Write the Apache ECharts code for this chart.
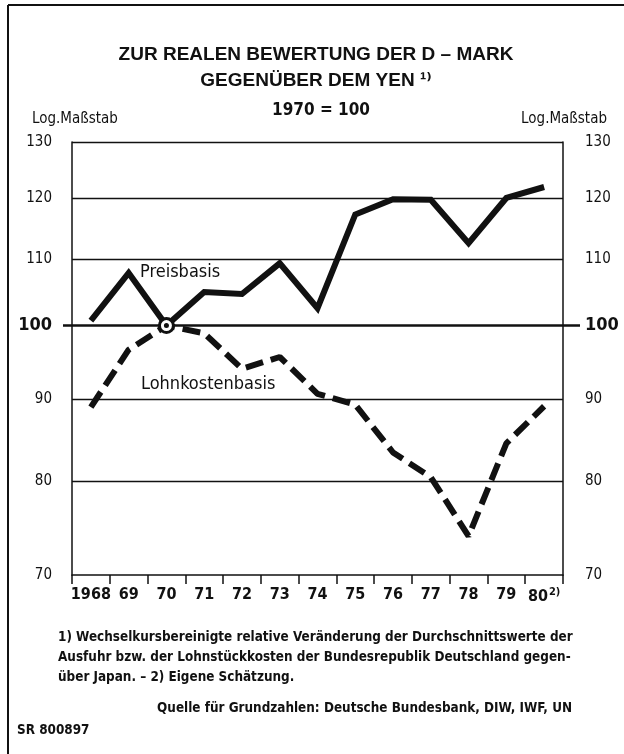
<!DOCTYPE html>
<html>
<head>
<meta charset="utf-8">
<title>Zur realen Bewertung der D-Mark gegenüber dem Yen</title>
<script src="https://cdn.jsdelivr.net/npm/echarts@6/dist/echarts.min.js"></script>
<style>
  html, body { margin: 0; padding: 0; background: #fff; }
  #chart { width: 624px; height: 754px; }
</style>
</head>
<body>
<div id="chart"></div>
<script>
  // Jahre
  var years = ['1968', '69', '70', '71', '72', '73', '74', '75', '76', '77', '78', '79', '80'];
  // Preisbasis, 1970 = 100
  var preisbasis = [100.7, 107.8, 100, 104.9, 104.6, 109.3, 102.5, 117.2, 119.8, 119.7, 112.5, 120.0, 121.9];
  // Lohnkostenbasis, 1970 = 100
  var lohnkosten = [89.0, 96.6, 100, 98.9, 94.0, 95.6, 90.7, 89.3, 83.4, 80.5, 74.0, 84.5, 89.1];
  // Teilung der log. Achse
  var yTicks = [70, 80, 90, 100, 110, 120, 130];

  var ink = '#111';
  var cond = "'Liberation Sans Narrow', 'DejaVu Sans Condensed', 'Liberation Sans', sans-serif";
  var sans = "'Liberation Sans', 'DejaVu Sans', sans-serif";

  function yAxis(pos) {
    return {
      type: 'log',
      logBase: 10,
      position: pos,
      min: 70,
      max: 130,
      axisLine: { show: true, lineStyle: { color: ink, width: 1.5 } },
      axisTick: {
        show: true,
        customValues: [100],
        length: pos == 'left' ? 9 : 17,
        lineStyle: { color: ink, width: 2.5 }
      },
      axisLabel: {
        customValues: yTicks,
        margin: pos == 'left' ? 20 : 22,
        align: pos == 'left' ? 'right' : 'left',
        color: ink,
        fontFamily: cond,
        fontSize: 15,
        formatter: function (v) {
          return v == 100 ? '{b|100}' : String(Math.round(v));
        },
        rich: { b: { fontSize: 18, fontWeight: 'bold', fontFamily: cond, color: ink } }
      },
      splitLine: { show: false }
    };
  }

  var chart = echarts.init(document.getElementById('chart'));
  chart.setOption({
    backgroundColor: '#fff',
    animation: false,
    grid: { left: 72, right: 61, top: 142, bottom: 179 },
    xAxis: {
      type: 'category',
      data: years,
      boundaryGap: true,
      axisLine: { lineStyle: { color: ink, width: 1.5 } },
      axisTick: { show: true, interval: 0, length: 9, lineStyle: { color: ink, width: 1.5 } },
      axisLabel: {
        interval: 0,
        margin: 12,
        color: ink,
        fontFamily: cond,
        fontSize: 16,
        fontWeight: 'bold',
        formatter: function (v) {
          return v == '80' ? '80{s|2)}' : v;
        },
        rich: { s: { fontSize: 11, fontWeight: 'bold', fontFamily: cond, color: ink, verticalAlign: 'top', padding: [0, 0, 8, 1] } }
      }
    },
    yAxis: [yAxis('left'), yAxis('right')],
    series: [
      {
        name: 'Preisbasis',
        type: 'line',
        data: preisbasis,
        symbol: 'none',
        lineStyle: { color: ink, width: 6, cap: 'butt', join: 'miter' },
        z: 3,
        markLine: {
          silent: true,
          symbol: 'none',
          label: { show: false },
          lineStyle: { color: ink, type: 'solid', width: 1.3 },
          data: yTicks.filter(function (v) { return v > 70; }).map(function (v) {
            return { yAxis: v, lineStyle: { width: v == 100 ? 2.5 : 1.3, color: ink, type: 'solid' } };
          })
        },
        markPoint: {
          silent: true,
          label: { show: false },
          data: [
            { coord: [years[2], preisbasis[2]], symbol: 'circle', symbolSize: 14,
              itemStyle: { color: '#fff', borderColor: ink, borderWidth: 3 } },
            { coord: [years[2], preisbasis[2]], symbol: 'circle', symbolSize: 5,
              itemStyle: { color: ink } }
          ]
        }
      },
      {
        name: 'Lohnkostenbasis',
        type: 'line',
        data: lohnkosten,
        symbol: 'none',
        lineStyle: { color: ink, width: 6, type: [18, 8], cap: 'butt' },
        z: 2
      }
    ],
    graphic: [
      { type: 'line', shape: { x1: 8, y1: 5, x2: 624, y2: 5 }, style: { stroke: ink, lineWidth: 2 } },
      { type: 'line', shape: { x1: 8, y1: 5, x2: 8, y2: 754 }, style: { stroke: ink, lineWidth: 2 } },
      { type: 'text', x: 316, y: 55, style: { text: 'ZUR REALEN BEWERTUNG DER D – MARK', font: 'bold 19px ' + sans, fill: ink, textAlign: 'center', textVerticalAlign: 'middle' } },
      { type: 'text', x: 316, y: 81, style: { text: 'GEGENÜBER DEM YEN ¹⁾', font: 'bold 19px ' + sans, fill: ink, textAlign: 'center', textVerticalAlign: 'middle' } },
      { type: 'text', x: 321, y: 111, style: { text: '1970 = 100', font: 'bold 17px ' + cond, fill: ink, textAlign: 'center', textVerticalAlign: 'middle' } },
      { type: 'text', x: 32, y: 119, style: { text: 'Log.Maßstab', font: '15px ' + cond, fill: ink, textVerticalAlign: 'middle' } },
      { type: 'text', x: 607, y: 119, style: { text: 'Log.Maßstab', font: '15px ' + cond, fill: ink, textAlign: 'right', textVerticalAlign: 'middle' } },
      { type: 'text', x: 140, y: 272, style: { text: 'Preisbasis', font: '18px ' + cond, fill: ink, textVerticalAlign: 'middle' } },
      { type: 'text', x: 141, y: 384, style: { text: 'Lohnkostenbasis', font: '18px ' + cond, fill: ink, textVerticalAlign: 'middle' } },
      { type: 'text', x: 58, y: 638, style: { text: '1) Wechselkursbereinigte relative Veränderung der Durchschnittswerte der', font: 'bold 13.4px ' + cond, fill: ink, textVerticalAlign: 'middle' } },
      { type: 'text', x: 58, y: 658, style: { text: 'Ausfuhr bzw. der Lohnstückkosten der Bundesrepublik Deutschland gegen-', font: 'bold 13.4px ' + cond, fill: ink, textVerticalAlign: 'middle' } },
      { type: 'text', x: 58, y: 678, style: { text: 'über Japan. – 2) Eigene Schätzung.', font: 'bold 13.4px ' + cond, fill: ink, textVerticalAlign: 'middle' } },
      { type: 'text', x: 572, y: 709, style: { text: 'Quelle für Grundzahlen: Deutsche Bundesbank, DIW, IWF, UN', font: 'bold 13.4px ' + cond, fill: ink, textAlign: 'right', textVerticalAlign: 'middle' } },
      { type: 'text', x: 17, y: 731, style: { text: 'SR 800897', font: 'bold 13.4px ' + cond, fill: ink, textVerticalAlign: 'middle' } }
    ]
  });
</script>
</body>
</html>
